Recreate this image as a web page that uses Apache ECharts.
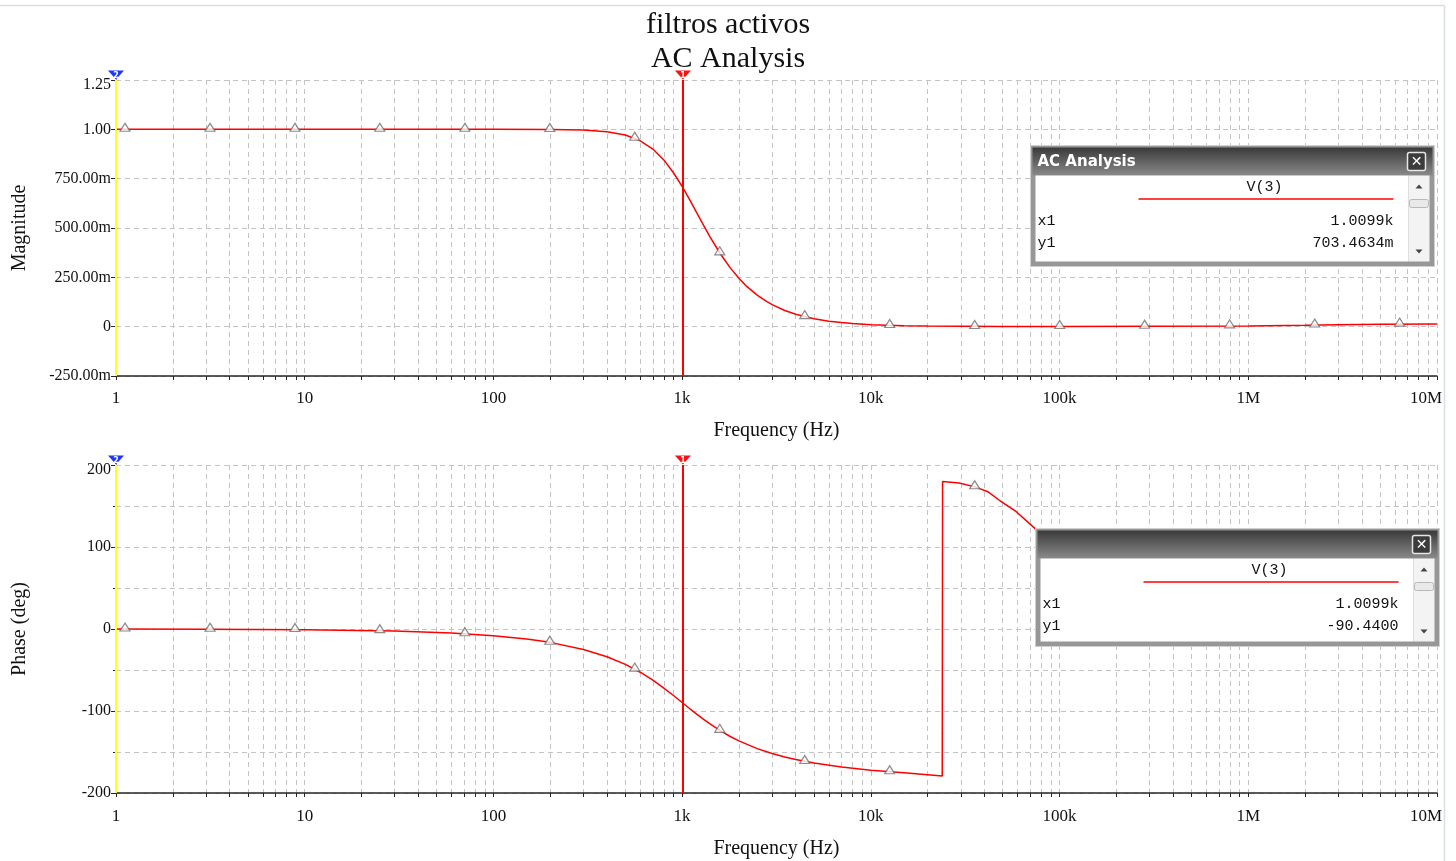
<!DOCTYPE html>
<html>
<head>
<meta charset="utf-8">
<script src="https://cdn.jsdelivr.net/npm/echarts@6/dist/echarts.min.js"></script>
<style>
  html, body { margin: 0; padding: 0; background: #ffffff; }
  #chart { width: 1456px; height: 861px; }
</style>
</head>
<body>
<div id="chart"></div>
<script>
// ---- V(3) frequency response (AC sweep) ----
const freqHz = [1, 3, 10, 30, 100, 200, 300, 400, 500, 600, 700, 800, 900, 1000, 1100,
  1200, 1300, 1400, 1600, 1800, 2000, 2200, 2500, 2800, 3000, 3500, 4000, 5000, 6000, 7000,
  8000, 10000, 15000, 20000, 30000, 50000, 100000, 300000, 1000000, 2000000, 3000000,
  5000000, 10000000];
const magnitude = [1.000, 1.000, 1.000, 1.000, 1.000, 0.999, 0.996, 0.988, 0.971, 0.942,
  0.900, 0.845, 0.780, 0.711, 0.641, 0.574, 0.513, 0.458, 0.367, 0.298, 0.245, 0.204,
  0.160, 0.128, 0.112, 0.082, 0.063, 0.040, 0.028, 0.021, 0.016, 0.010, 0.005, 0.003,
  0.002, 0.001, 0.001, 0.002, 0.004, 0.007, 0.010, 0.012, 0.014];

const phaseFreqHz = [1, 3, 10, 30, 60, 100, 150, 200, 300, 400, 500, 600, 700, 800, 900,
  1000, 1100, 1200, 1300, 1400, 1600, 1800, 2000, 2500, 3000, 3500, 4000, 5000, 7000, 10000,
  15000, 20000, 23900, 24000, 29400, 36000, 42000, 48000, 59000, 73000, 90000];
const phaseDeg = [-0.1, -0.2, -0.8, -2.4, -4.8, -8.1, -12.2, -16.3, -24.9, -33.8, -43.1,
  -52.7, -62.4, -72.0, -81.1, -89.6, -97.3, -104.1, -110.2, -115.5, -124.3, -131.1, -136.4,
  -145.9, -151.9, -156.1, -159.2, -163.5, -168.4, -172.2, -175.4, -177.8, -179.3, 179.8,
  178.0, 173.0, 167.0, 157.0, 143.0, 124.0, 105.0];

// trace identification markers (triangles)
const markerFreqHz = [1.116, 3.15, 8.88, 25.0, 70.6, 199, 561, 1583, 4465, 12590, 35510,
  100200, 282500, 797000, 2250000, 6340000];
const markerMag = [1.000, 1.000, 1.000, 1.000, 1.000, 0.999, 0.955, 0.374, 0.051, 0.006,
  0.001, 0.001, 0.002, 0.004, 0.008, 0.013];
const markerPhase = [-0.1, -0.3, -0.7, -2.0, -5.7, -16.2, -48.9, -123.6, -161.5, -174.0, 173.5];

// cursors
const cursor2Freq = 1;
const cursor1Freq = 1009.9;
const cursor1Mag = 0.7034634;
const cursor1Phase = -90.44;

// axis ticks
const decadeTicks = [1, 10, 100, 1000, 10000, 100000, 1000000, 10000000];
const decadeLabels = ['1', '10', '100', '1k', '10k', '100k', '1M', '10M'];
const magRange = [-0.25, 1.25];
const magTickStep = 0.25;
const phaseRange = [-200, 200];
const phaseTickStep = 100;

const gridFreqs = [];
for (let d = 0; d < decadeTicks.length - 1; d++) {
  for (let m = 1; m <= 9; m++) gridFreqs.push(decadeTicks[d] * m);
}
gridFreqs.push(decadeTicks[decadeTicks.length - 1]);

const SERIF = '"Liberation Serif", "Times New Roman", serif';
const MONO = '"Liberation Mono", "Courier New", monospace';
const SANS = '"DejaVu Sans", Verdana, sans-serif';
const GRID_LINE = { type: [5, 4], color: '#c4c4c4', width: 1 };
const AXIS_COLOR = '#262626';

function pair(xs, ys) { return ys.map((y, i) => [xs[i], y]); }

function freqAxis(gridIndex, labelMargin, nameGap) {
  const last = decadeTicks[decadeTicks.length - 1];
  return {
    type: 'log', logBase: 10, min: 1, max: 1e7, gridIndex,
    axisLine: { show: true, onZero: false, lineStyle: { color: AXIS_COLOR, width: 1.5 } },
    axisTick: { show: true, inside: false, length: 4, customValues: gridFreqs,
      lineStyle: { color: AXIS_COLOR } },
    axisLabel: {
      customValues: decadeTicks,
      formatter: v => {
        const t = decadeLabels[decadeTicks.indexOf(v)] ?? '';
        // last label is kept inside the plot edge with a trailing spacer
        return v === last ? '{t|' + t + '}{s|}' : t;
      },
      rich: { t: { fontFamily: SERIF, fontSize: 17, color: '#111' }, s: { width: 22 } },
      fontFamily: SERIF, fontSize: 17, color: '#111', margin: labelMargin
    },
    splitLine: { show: true, lineStyle: GRID_LINE },
    name: 'Frequency (Hz)', nameLocation: 'middle', nameGap: nameGap,
    nameTextStyle: { fontFamily: SERIF, fontSize: 20, color: '#111' }
  };
}

// top label of each value axis sits a little below its tick
function valueLabel(text, isTop) { return isTop ? '{top|' + text + '}' : text; }
const TOP_RICH = { top: { fontFamily: SERIF, fontSize: 16, color: '#111', padding: [10, 0, 0, 0] } };

function magLabel(v) {
  let t;
  if (Math.abs(v) < 1e-9) t = '0';
  else if (Math.abs(v) >= 1) t = v.toFixed(2);
  else t = (v * 1000).toFixed(2) + 'm';
  return valueLabel(t, Math.abs(v - magRange[1]) < 1e-9);
}
function phaseLabel(v) { return valueLabel(String(v), v === phaseRange[1]); }

function cursorMarks(topValue) {
  const lbl = t => ({ show: true, position: 'inside', formatter: t, color: '#fff', fontSize: 8,
    fontWeight: 'bold', fontFamily: SANS, offset: [0, 1] });
  return {
    markLine: {
      silent: true, symbol: ['none', 'none'], label: { show: false },
      data: [
        { xAxis: cursor2Freq, lineStyle: { color: '#ffff22', width: 2, type: 'solid' } },
        { xAxis: cursor1Freq, lineStyle: { color: '#ff0000', width: 2, type: 'solid' } }
      ]
    },
    markPoint: {
      silent: true,
      data: [
        { coord: [cursor2Freq, topValue], symbol: 'triangle', symbolRotate: 180,
          symbolSize: [16, 9], symbolOffset: [0, -5], itemStyle: { color: '#1a36ff' }, label: lbl('2') },
        { coord: [cursor1Freq, topValue], symbol: 'triangle', symbolRotate: 180,
          symbolSize: [16, 9], symbolOffset: [0, -5], itemStyle: { color: '#ff1010' }, label: lbl('1') }
      ]
    }
  };
}

const markerStyle = {
  symbol: 'triangle', symbolSize: [10, 8], symbolOffset: [0, -2],
  itemStyle: { color: '#ffffff', borderColor: '#6e6e6e', borderWidth: 1.2 }
};

// readout window drawn over the plot
function readoutBox(left, top, height, title, xText, yText) {
  const w = 404;
  const bodyH = height - 35;
  const Z = 100;
  const children = [
    { type: 'rect', z: Z, shape: { x: 0, y: 0, width: w, height: height },
      style: { fill: '#979797', stroke: '#cfcfcf', lineWidth: 1 } },
    { type: 'rect', z: Z, shape: { x: 2, y: 2, width: w - 4, height: 28 },
      style: { fill: new echarts.graphic.LinearGradient(0, 0, 0, 1, [
        { offset: 0, color: '#3a3a3a' }, { offset: 1, color: '#8a8a8a' }]) } },
    { type: 'rect', z: Z, shape: { x: 5, y: 30, width: w - 31, height: bodyH },
      style: { fill: '#ffffff' } },
    { type: 'rect', z: Z, shape: { x: w - 26, y: 30, width: 21, height: bodyH },
      style: { fill: '#f3f3f3' } },
    { type: 'polygon', z: Z + 1, shape: { points: [[w - 19, 43], [w - 12, 43], [w - 15.5, 39]] },
      style: { fill: '#444' } },
    { type: 'rect', z: Z + 1, shape: { x: w - 25, y: 54, width: 19, height: 8, r: 2 },
      style: { fill: '#e9e9e9', stroke: '#b8b8b8', lineWidth: 1 } },
    { type: 'polygon', z: Z + 1,
      shape: { points: [[w - 19, 30 + bodyH - 12], [w - 12, 30 + bodyH - 12], [w - 15.5, 30 + bodyH - 8]] },
      style: { fill: '#444' } },
    { type: 'rect', z: Z + 1, shape: { x: w - 27, y: 7, width: 18, height: 18, r: 2 },
      style: { fill: '#3c3c3c', stroke: '#e6e6e6', lineWidth: 1.5 } },
    { type: 'text', z: Z + 2, x: w - 18, y: 16.5,
      style: { text: '✕', fill: '#ffffff', font: 'bold 14px ' + SANS, align: 'center', verticalAlign: 'middle' } },
    { type: 'text', z: Z + 1, x: 234, y: 42,
      style: { text: 'V(3)', fill: '#111', font: '15px ' + MONO, align: 'center', verticalAlign: 'middle' } },
    { type: 'line', z: Z + 1, shape: { x1: 108, y1: 53.5, x2: 363, y2: 53.5 },
      style: { stroke: '#ff0000', lineWidth: 1.5 } },
    { type: 'text', z: Z + 1, x: 7, y: 76,
      style: { text: 'x1', fill: '#111', font: '15px ' + MONO, verticalAlign: 'middle' } },
    { type: 'text', z: Z + 1, x: 363, y: 76,
      style: { text: xText, fill: '#111', font: '15px ' + MONO, align: 'right', verticalAlign: 'middle' } },
    { type: 'text', z: Z + 1, x: 7, y: 98,
      style: { text: 'y1', fill: '#111', font: '15px ' + MONO, verticalAlign: 'middle' } },
    { type: 'text', z: Z + 1, x: 363, y: 98,
      style: { text: yText, fill: '#111', font: '15px ' + MONO, align: 'right', verticalAlign: 'middle' } }
  ];
  if (title) {
    children.push({ type: 'text', z: Z + 1, x: 7, y: 17,
      style: { text: title, fill: '#ffffff', font: 'bold 15px ' + SANS, verticalAlign: 'middle' } });
  }
  return { type: 'group', left: left, top: top, z: Z, children: children };
}

function fmtFreq(f) { return f >= 1000 ? (f / 1000).toFixed(4) + 'k' : f.toFixed(4); }
function fmtMag(v) { return v < 1 ? (v * 1000).toFixed(4) + 'm' : v.toFixed(4); }

const chart = echarts.init(document.getElementById('chart'), null, { renderer: 'canvas' });

chart.setOption({
  backgroundColor: '#ffffff',
  animation: false,
  title: {
    text: 'filtros activos\nAC Analysis',
    left: 'center', top: 3,
    textStyle: { fontFamily: SERIF, fontSize: 30, fontWeight: 'normal', color: '#111', lineHeight: 34 }
  },
  grid: [
    { left: 116, right: 18, top: 80, height: 296 },
    { left: 116, right: 18, top: 465, height: 328 }
  ],
  xAxis: [freqAxis(0, 14, 45), freqAxis(1, 15, 46)],
  yAxis: [
    {
      type: 'value', gridIndex: 0, min: magRange[0], max: magRange[1], interval: magTickStep,
      axisLine: { show: true, onZero: false, lineStyle: { color: AXIS_COLOR } },
      axisTick: { show: true, length: 5, lineStyle: { color: AXIS_COLOR } },
      axisLabel: { formatter: magLabel, rich: TOP_RICH, fontFamily: SERIF, fontSize: 16, color: '#111', margin: 5 },
      splitLine: { show: true, lineStyle: GRID_LINE },
      name: 'Magnitude', nameLocation: 'middle', nameGap: 86,
      nameTextStyle: { fontFamily: SERIF, fontSize: 20, color: '#111' }
    },
    {
      type: 'value', gridIndex: 1, min: phaseRange[0], max: phaseRange[1], interval: phaseTickStep,
      axisLine: { show: true, onZero: false, lineStyle: { color: AXIS_COLOR } },
      axisTick: { show: true, length: 5, lineStyle: { color: AXIS_COLOR } },
      minorTick: { show: true, splitNumber: 2, length: 3, lineStyle: { color: AXIS_COLOR } },
      axisLabel: { formatter: phaseLabel, rich: TOP_RICH, fontFamily: SERIF, fontSize: 16, color: '#111', margin: 5 },
      splitLine: { show: true, lineStyle: GRID_LINE },
      minorSplitLine: { show: true, lineStyle: GRID_LINE },
      name: 'Phase (deg)', nameLocation: 'middle', nameGap: 86,
      nameTextStyle: { fontFamily: SERIF, fontSize: 20, color: '#111' }
    }
  ],
  series: [
    Object.assign({
      name: 'V(3) magnitude', type: 'line', xAxisIndex: 0, yAxisIndex: 0,
      data: pair(freqHz, magnitude), showSymbol: false, clip: false,
      lineStyle: { color: '#ff0000', width: 1.5 }, z: 3
    }, cursorMarks(magRange[1])),
    Object.assign({
      name: 'V(3) magnitude markers', type: 'scatter', xAxisIndex: 0, yAxisIndex: 0,
      data: pair(markerFreqHz, markerMag), z: 4
    }, markerStyle),
    Object.assign({
      name: 'V(3) phase', type: 'line', xAxisIndex: 1, yAxisIndex: 1,
      data: pair(phaseFreqHz, phaseDeg), showSymbol: false, clip: false,
      lineStyle: { color: '#ff0000', width: 1.5 }, z: 3
    }, cursorMarks(phaseRange[1])),
    Object.assign({
      name: 'V(3) phase markers', type: 'scatter', xAxisIndex: 1, yAxisIndex: 1,
      data: pair(markerFreqHz.slice(0, markerPhase.length), markerPhase), z: 4
    }, markerStyle)
  ],
  graphic: [
    { type: 'line', z: 100, shape: { x1: 0, y1: 5.5, x2: 1444.5, y2: 5.5 },
      style: { stroke: '#d9dde5', lineWidth: 1.5 } },
    { type: 'line', z: 100, shape: { x1: 1444.5, y1: 5.5, x2: 1444.5, y2: 861 },
      style: { stroke: '#d9dde5', lineWidth: 1.5 } },
    readoutBox(1030, 145, 121, 'AC Analysis', fmtFreq(cursor1Freq), fmtMag(cursor1Mag)),
    readoutBox(1035, 528, 118, '', fmtFreq(cursor1Freq), cursor1Phase.toFixed(4))
  ]
});
</script>
</body>
</html>
